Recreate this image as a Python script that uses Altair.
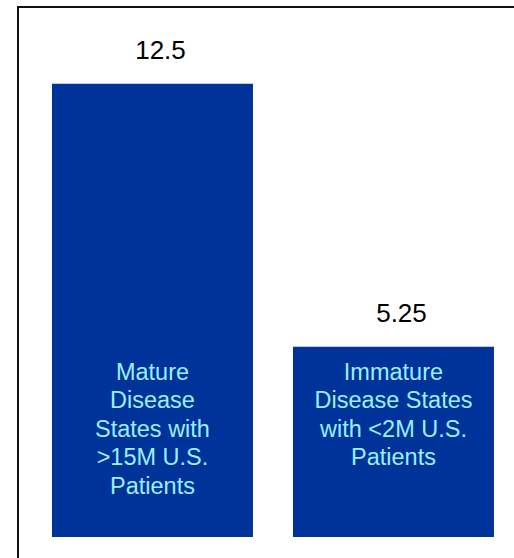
import altair as alt
import pandas as pd

categories = ["Mature", "Immature"]
values = [12.5, 5.25]
value_labels = ["12.5", "5.25"]
inner_labels = [
    "Mature\nDisease\nStates with\n>15M U.S.\nPatients",
    "Immature\nDisease States\nwith <2M U.S.\nPatients",
]

df = pd.DataFrame({
    "cat": categories,
    "value": values,
    "vlabel": value_labels,
    "ilabel": inner_labels,
})

FONT = "Liberation Sans"
# the framed plot box runs past the right and bottom edges of the picture
W, H = 516, 571

x = alt.X("cat:N", sort=categories, axis=None,
          scale=alt.Scale(paddingInner=0.166, paddingOuter=0.1535, align=0.459))
yscale = alt.Scale(domain=[-1.131, 14.62], nice=False, zero=False)

base = alt.Chart(df)

bars = base.mark_bar(color="#003399").encode(
    x=x,
    y=alt.Y("value:Q", scale=yscale, axis=None),
    y2=alt.datum(0),
)

vtext = base.mark_text(
    font=FONT, fontSize=26, color="#000000", baseline="alphabetic",
    align="center", dy=-25, dx=8,
).encode(
    x=x,
    y=alt.Y("value:Q", scale=yscale, axis=None),
    text="vlabel:N",
)

itext = base.transform_joinaggregate(
    minv="min(value)"
).mark_text(
    font=FONT, fontSize=23.5, color="#99F0FF", baseline="alphabetic",
    align="center", lineBreak="\n", lineHeight=28.5, dy=33,
).encode(
    x=x,
    y=alt.Y("minv:Q", scale=yscale, axis=None),
    text="ilabel:N",
)

chart = alt.layer(bars, vtext, itext).properties(
    width=W,
    height=H,
    padding={"left": 18, "top": 7, "right": -20, "bottom": -20},
    autosize=alt.AutoSizeParams(type="none"),
    background="white",
).configure_view(
    stroke="#111111",
    strokeWidth=2,
)

chart.save("out.html", embed_options={"renderer": "svg", "actions": False})
